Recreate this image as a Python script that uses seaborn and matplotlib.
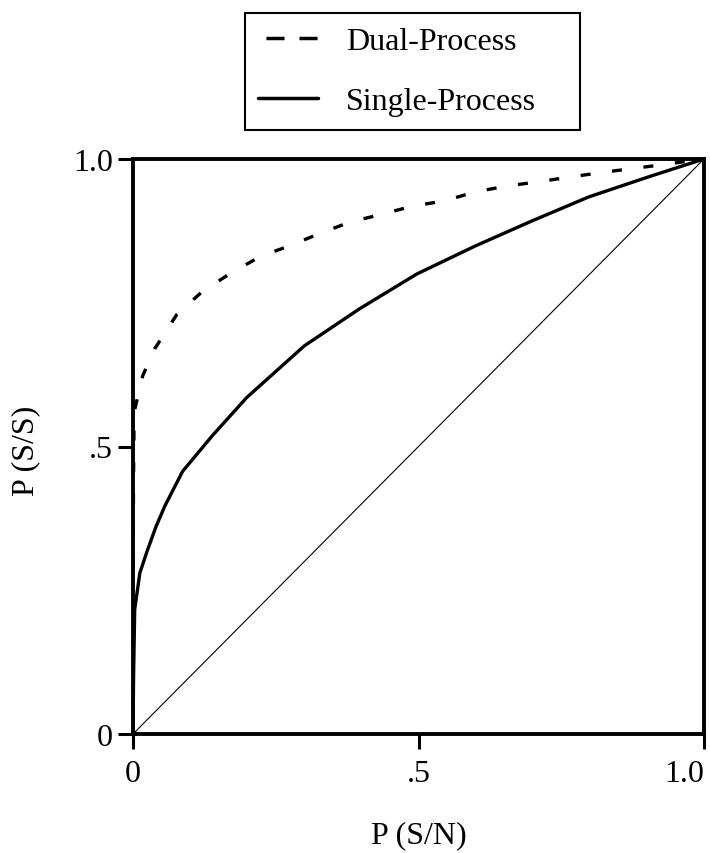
import matplotlib
matplotlib.use("Agg")
import matplotlib.pyplot as plt
from matplotlib.lines import Line2D
import seaborn as sns

# ROC points: P(S/N) on x, P(S/S) on y
dual_fa = [0.0, 0.001, 0.002, 0.017, 0.038, 0.077, 0.122, 0.169, 0.222, 0.274,
           0.326, 0.379, 0.436, 0.489, 0.545, 0.600, 0.655, 0.714, 0.768,
           0.824, 0.880, 0.934, 1.0]
dual_hit = [0.29, 0.45, 0.56, 0.623, 0.67, 0.73, 0.77, 0.80, 0.83, 0.849,
            0.87, 0.89, 0.904, 0.918, 0.927, 0.943, 0.953, 0.961, 0.969,
            0.977, 0.984, 0.991, 1.0]

single_fa = [0.0, 0.001, 0.003, 0.012, 0.024, 0.040, 0.056, 0.087, 0.140,
             0.199, 0.300, 0.396, 0.497, 0.600, 0.698, 0.798, 0.903, 1.0]
single_hit = [0.0, 0.10, 0.217, 0.28, 0.316, 0.36, 0.397, 0.457, 0.52,
              0.585, 0.675, 0.739, 0.80, 0.849, 0.892, 0.934, 0.969, 1.0]

chance = [0.0, 1.0]

tick_values = [0.0, 0.5, 1.0]
tick_labels = ["0", ".5", "1.0"]
series_names = ["Dual-Process", "Single-Process"]
x_title = "P (S/N)"
y_title = "P (S/S)"

FS = 23

sns.set_theme(style="ticks")
plt.rcParams["font.family"] = ["Liberation Serif", "DejaVu Serif"]
plt.rcParams["font.size"] = FS
plt.rcParams["text.color"] = "black"
plt.rcParams["axes.labelcolor"] = "black"
plt.rcParams["legend.labelcolor"] = "black"

fig = plt.figure(figsize=(7.1, 8.54), dpi=100)
ax = fig.add_axes([133 / 710, 119 / 854, 571 / 710, 575 / 854])

# chance diagonal
sns.lineplot(x=chance, y=chance, ax=ax, color="black", lw=0.8,
             estimator=None, sort=False, zorder=1)
# single-process (solid) curve
sns.lineplot(x=single_fa, y=single_hit, ax=ax, color="black", lw=2.4,
             estimator=None, sort=False, zorder=3)
# dual-process (dashed) curve
sns.lineplot(x=dual_fa, y=dual_hit, ax=ax, color="black", lw=2.4,
             linestyle=(0, (3.0, 6.5)), estimator=None, sort=False, zorder=3)

ax.set_xlim(0, 1)
ax.set_ylim(0, 1)
ax.set_xticks(tick_values)
ax.set_xticklabels(tick_labels)
ax.set_yticks(tick_values)
ax.set_yticklabels(tick_labels)
ax.tick_params(axis="both", direction="out", length=11, width=2.2,
               color="black", labelsize=FS, labelcolor="black")
ax.tick_params(axis="x", pad=7)
ax.tick_params(axis="y", pad=3.5)
# last x label sits flush with the right edge of the frame
ax.get_xticklabels()[-1].set_horizontalalignment("right")
ax.get_xticklabels()[-1].set_x(1.0)

for side in ["left", "right", "top", "bottom"]:
    ax.spines[side].set_visible(True)
    ax.spines[side].set_linewidth(2.8)
    ax.spines[side].set_color("black")

ax.set_xlabel(x_title, fontsize=FS, color="black")
ax.set_ylabel(y_title, fontsize=FS, color="black")
ax.xaxis.label.set_verticalalignment("center")
ax.yaxis.label.set_verticalalignment("center")
ax.xaxis.set_label_coords(0.5, (735 - 836) / 575)
ax.yaxis.set_label_coords((26 - 133) / 571, (735 - 451) / 575)

handles = [
    Line2D([], [], color="black", lw=2.5, linestyle=(7.2, (5.2, 4.3))),
    Line2D([], [], color="black", lw=2.5),
]
leg = fig.legend(handles, series_names, loc="upper left",
                 bbox_to_anchor=(245 / 710, 1 - 132 / 854, 335 / 710, 118 / 854),
                 mode="expand", fontsize=FS, handlelength=1.85,
                 handletextpad=0.88, labelspacing=0.97, borderaxespad=0,
                 borderpad=0.42, frameon=True, fancybox=False,
                 edgecolor="black", framealpha=1)
leg.get_frame().set_linewidth(1.5)
for txt in leg.get_texts():
    txt.set_color("black")

fig.savefig("out.png", dpi=100, facecolor="white")
